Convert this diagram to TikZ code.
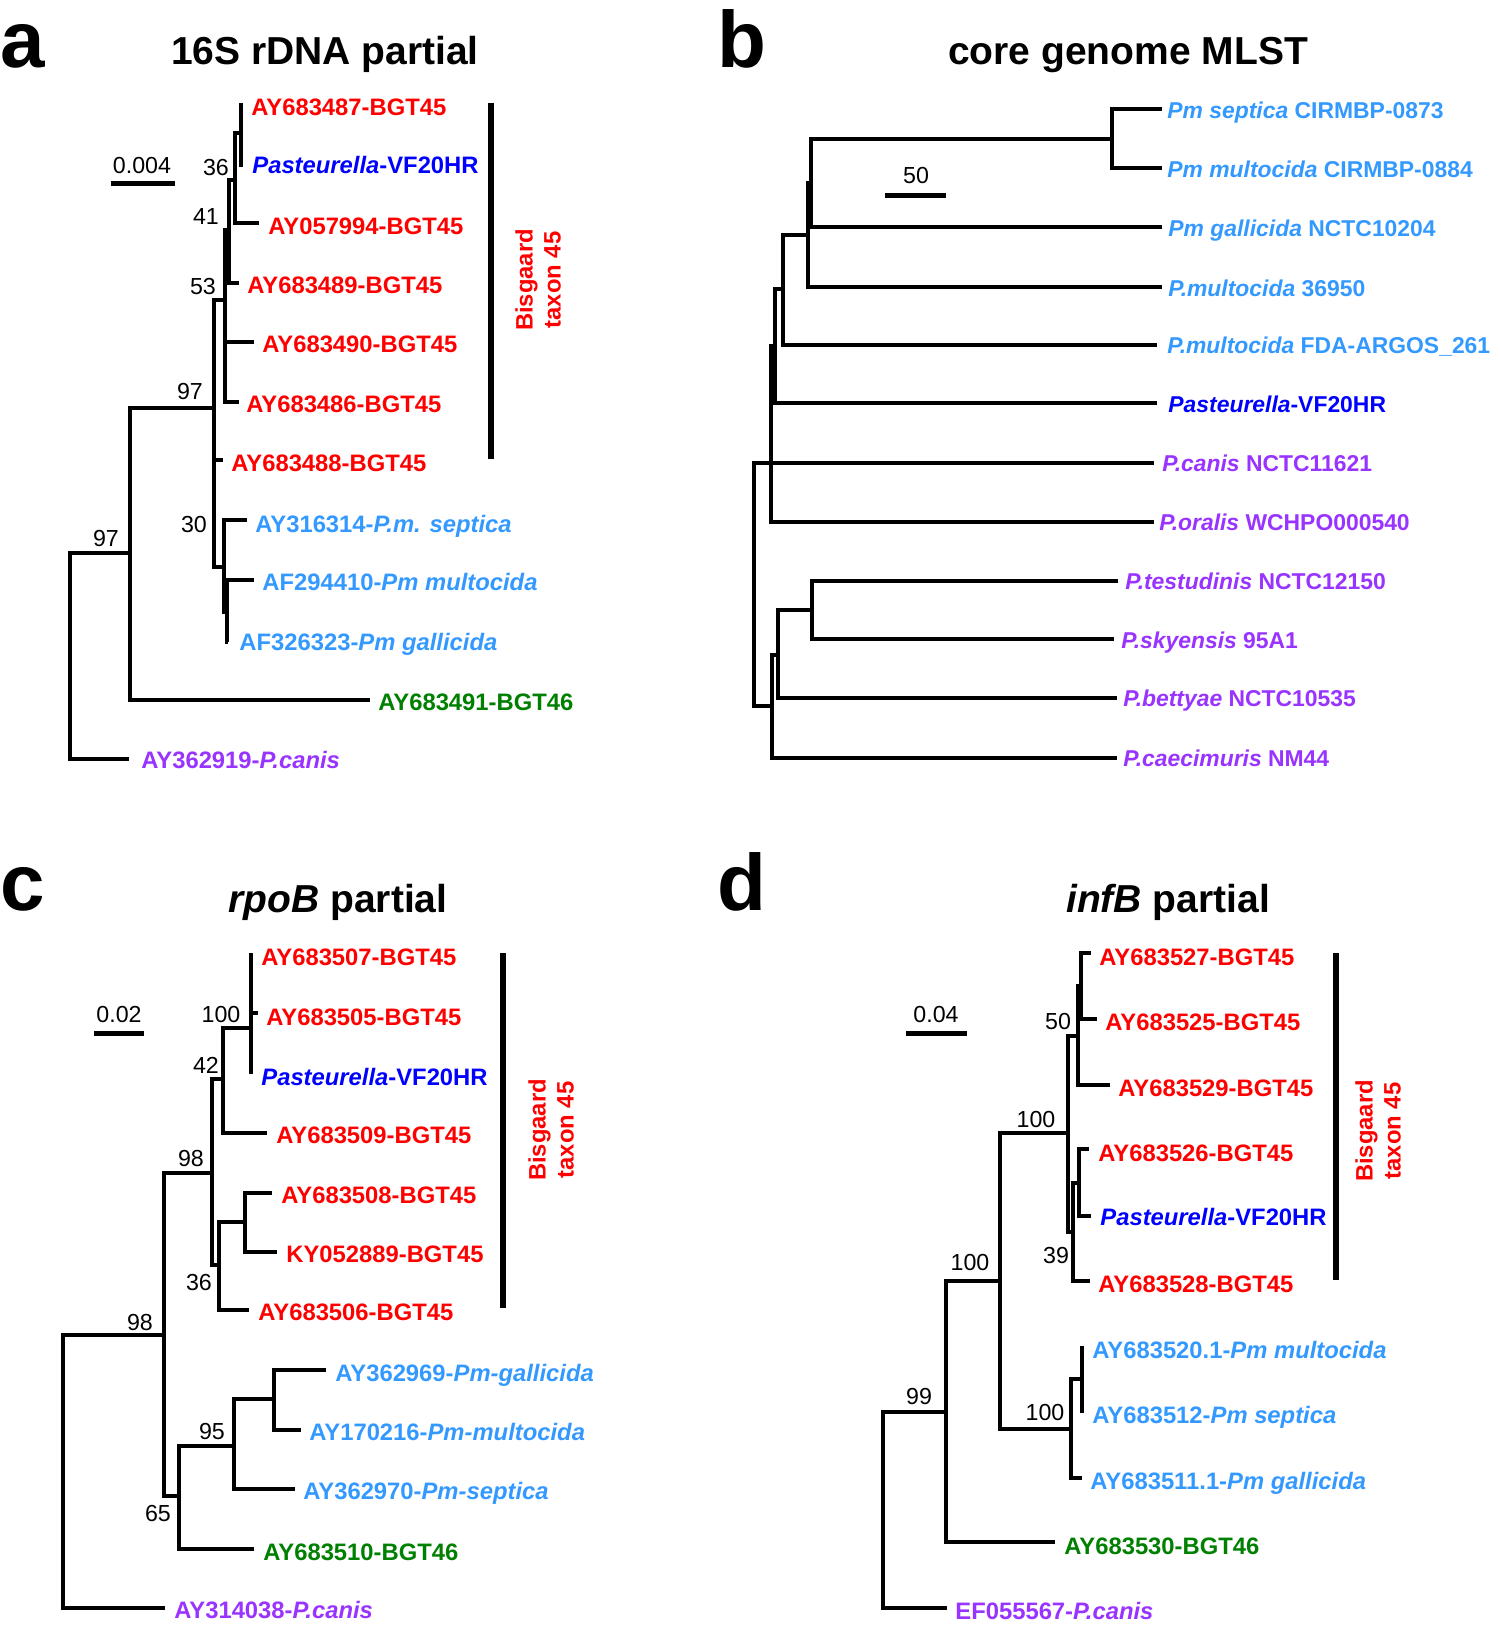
\documentclass[tikz,border=0pt]{standalone}
\usepackage{fontspec}
\setmainfont{Liberation Sans}
\usetikzlibrary{backgrounds}
\pgfdeclarelayer{edgelayer}
\pgfdeclarelayer{nodelayer}
\pgfsetlayers{edgelayer,nodelayer,main}
\definecolor{bgtred}{RGB}{255,0,0}
\definecolor{vfblue}{RGB}{0,0,255}
\definecolor{pmblue}{RGB}{51,153,255}
\definecolor{bgtgreen}{RGB}{0,128,0}
\definecolor{canispurple}{RGB}{153,51,255}
\tikzstyle{none}=[inner sep=0pt]
\tikzstyle{leaf}=[anchor=west,inner sep=0pt,text height=8.5pt,text depth=0pt,font=\bfseries\fontsize{11.9}{14.2}\selectfont]
\tikzstyle{bgt45}=[leaf,text=bgtred]
\tikzstyle{vf}=[leaf,text=vfblue]
\tikzstyle{pm}=[leaf,text=pmblue]
\tikzstyle{bgt46}=[leaf,text=bgtgreen]
\tikzstyle{canis}=[leaf,text=canispurple]
\tikzstyle{leafb}=[leaf,text height=8.2pt,font=\bfseries\fontsize{11.45}{13.8}\selectfont]
\tikzstyle{vfb}=[leafb,text=vfblue]
\tikzstyle{pmb}=[leafb,text=pmblue]
\tikzstyle{canisb}=[leafb,text=canispurple]
\tikzstyle{boot}=[inner sep=0pt,font=\fontsize{11.6}{13.9}\selectfont]
\tikzstyle{heading}=[anchor=base,inner sep=0pt,font=\bfseries\fontsize{19.5}{23.4}\selectfont]
\tikzstyle{panel}=[anchor=base west,inner sep=0pt,font=\bfseries\fontsize{40}{48}\selectfont]
\tikzstyle{taxon}=[inner sep=0pt,rotate=90,align=center,text=bgtred,font=\bfseries\fontsize{11.9}{14}\selectfont]
\tikzstyle{branch}=[line width=1.6pt]
\tikzstyle{cladebar}=[line width=2.8pt]
\tikzstyle{scalebar}=[line width=2.5pt]

\begin{document}
\begin{tikzpicture}[x=0.5pt,y=-0.5pt]
	\useasboundingbox (0,0) rectangle (1500,1628);
	\begin{pgfonlayer}{nodelayer}
		% a: 16S rDNA
		\node [style=panel] (67) at (0, 67) {a};
		\node [style=heading] (66) at (325, 64) {16S rDNA partial};
		\node [style=none] (0) at (70, 656) {};
		\node [style=none] (1) at (130, 553) {};
		\node [style=none] (2) at (214, 408) {};
		\node [style=none] (3) at (225, 300) {};
		\node [style=none] (4) at (229, 230) {};
		\node [style=none] (5) at (235, 180) {};
		\node [style=none] (6) at (241, 133) {};
		\node [style=none] (7) at (224, 567) {};
		\node [style=none] (8) at (227, 612) {};
		\node [style=none] (10) at (241, 103) {};
		\node [style=none] (11) at (243, 165) {};
		\node [style=none] (12) at (259, 223) {};
		\node [style=none] (13) at (239, 283) {};
		\node [style=none] (14) at (254, 342) {};
		\node [style=none] (15) at (239, 402) {};
		\node [style=none] (16) at (223, 460) {};
		\node [style=none] (17) at (247, 520) {};
		\node [style=none] (18) at (254, 580) {};
		\node [style=none] (19) at (228, 642) {};
		\node [style=none] (20) at (370, 700) {};
		\node [style=none] (21) at (129, 759) {};
		\node [style=bgt45] (30) at (251, 107) {AY683487-BGT45};
		\node [style=vf] (31) at (252, 165) {\textit{Pasteurella}-VF20HR};
		\node [style=bgt45] (32) at (268, 226) {AY057994-BGT45};
		\node [style=bgt45] (33) at (247, 285) {AY683489-BGT45};
		\node [style=bgt45] (34) at (262, 344) {AY683490-BGT45};
		\node [style=bgt45] (35) at (246, 404) {AY683486-BGT45};
		\node [style=bgt45] (36) at (231, 463) {AY683488-BGT45};
		\node [style=pm] (37) at (255, 524) {AY316314-\textit{P.m. septica}};
		\node [style=pm] (38) at (262, 582) {AF294410-\textit{Pm multocida}};
		\node [style=pm] (39) at (239, 642) {AF326323-\textit{Pm gallicida}};
		\node [style=bgt46] (40) at (378, 702) {AY683491-BGT46};
		\node [style=canis] (41) at (141, 760) {AY362919-\textit{P.canis}};
		\node [style=boot] (50) at (216, 168) {36};
		\node [style=boot] (51) at (206, 217) {41};
		\node [style=boot] (52) at (203, 287) {53};
		\node [style=boot] (53) at (190, 392) {97};
		\node [style=boot] (54) at (106, 539) {97};
		\node [style=boot] (55) at (194, 525) {30};
		\node [style=none] (60) at (111, 183) {};
		\node [style=none] (61) at (175, 183) {};
		\node [style=boot] (62) at (142, 166) {0.004};
		\node [style=none] (63) at (491, 103) {};
		\node [style=none] (64) at (491, 459) {};
		\node [style=taxon] (65) at (538, 280) {Bisgaard\\taxon 45};

		% b: core genome MLST
		\node [style=panel] (167) at (717, 67) {b};
		\node [style=heading] (166) at (1128, 64) {core genome MLST};
		\node [style=none] (100) at (754, 584) {};
		\node [style=none] (101) at (771, 463) {};
		\node [style=none] (102) at (775, 346) {};
		\node [style=none] (103) at (783, 289) {};
		\node [style=none] (104) at (808, 235) {};
		\node [style=none] (105) at (811, 183) {};
		\node [style=none] (106) at (1112, 139) {};
		\node [style=none] (107) at (772, 706) {};
		\node [style=none] (108) at (778, 655) {};
		\node [style=none] (109) at (812, 610) {};
		\node [style=none] (110) at (1162, 109) {};
		\node [style=none] (111) at (1162, 168) {};
		\node [style=none] (112) at (1162, 227) {};
		\node [style=none] (113) at (1162, 287) {};
		\node [style=none] (114) at (1157, 345) {};
		\node [style=none] (115) at (1157, 403) {};
		\node [style=none] (116) at (1154, 463) {};
		\node [style=none] (117) at (1154, 522) {};
		\node [style=none] (118) at (1118, 581) {};
		\node [style=none] (119) at (1114, 639) {};
		\node [style=none] (120) at (1117, 698) {};
		\node [style=none] (121) at (1117, 758) {};
		\node [style=pmb] (130) at (1167, 110) {\textit{Pm septica} CIRMBP-0873};
		\node [style=pmb] (131) at (1167, 169) {\textit{Pm multocida} CIRMBP-0884};
		\node [style=pmb] (132) at (1168, 228) {\textit{Pm gallicida} NCTC10204};
		\node [style=pmb] (133) at (1168, 288) {\textit{P.multocida} 36950};
		\node [style=pmb] (134) at (1167, 345) {\textit{P.multocida} FDA-ARGOS\_261};
		\node [style=vfb] (135) at (1168, 404) {\textit{Pasteurella}-VF20HR};
		\node [style=canisb] (136) at (1162, 463) {\textit{P.canis} NCTC11621};
		\node [style=canisb] (137) at (1159, 522) {\textit{P.oralis} WCHPO000540};
		\node [style=canisb] (138) at (1125, 581) {\textit{P.testudinis} NCTC12150};
		\node [style=canisb] (139) at (1121, 640) {\textit{P.skyensis} 95A1};
		\node [style=canisb] (140) at (1123, 698) {\textit{P.bettyae} NCTC10535};
		\node [style=canisb] (141) at (1123, 758) {\textit{P.caecimuris} NM44};
		\node [style=none] (160) at (885, 195) {};
		\node [style=none] (161) at (946, 195) {};
		\node [style=boot] (162) at (916, 176) {50};

		% c: rpoB
		\node [style=panel] (267) at (0, 910) {c};
		\node [style=heading] (266) at (338, 912) {\textit{rpoB} partial};
		\node [style=none] (200) at (63, 1471) {};
		\node [style=none] (201) at (164, 1335) {};
		\node [style=none] (202) at (212, 1173) {};
		\node [style=none] (203) at (223, 1079) {};
		\node [style=none] (204) at (251, 1028) {};
		\node [style=none] (205) at (219, 1265) {};
		\node [style=none] (206) at (245, 1222) {};
		\node [style=none] (207) at (179, 1496) {};
		\node [style=none] (208) at (234, 1446) {};
		\node [style=none] (209) at (274, 1399) {};
		\node [style=none] (210) at (251, 953) {};
		\node [style=none] (211) at (258, 1013) {};
		\node [style=none] (212) at (251, 1074) {};
		\node [style=none] (213) at (267, 1133) {};
		\node [style=none] (214) at (272, 1193) {};
		\node [style=none] (215) at (277, 1252) {};
		\node [style=none] (216) at (249, 1310) {};
		\node [style=none] (217) at (326, 1370) {};
		\node [style=none] (218) at (301, 1430) {};
		\node [style=none] (219) at (295, 1489) {};
		\node [style=none] (220) at (254, 1549) {};
		\node [style=none] (221) at (165, 1608) {};
		\node [style=bgt45] (230) at (261, 957) {AY683507-BGT45};
		\node [style=bgt45] (231) at (266, 1017) {AY683505-BGT45};
		\node [style=vf] (232) at (261, 1077) {\textit{Pasteurella}-VF20HR};
		\node [style=bgt45] (233) at (276, 1135) {AY683509-BGT45};
		\node [style=bgt45] (234) at (281, 1195) {AY683508-BGT45};
		\node [style=bgt45] (235) at (286, 1254) {KY052889-BGT45};
		\node [style=bgt45] (236) at (258, 1312) {AY683506-BGT45};
		\node [style=pm] (237) at (335, 1373) {AY362969-\textit{Pm-gallicida}};
		\node [style=pm] (238) at (309, 1432) {AY170216-\textit{Pm-multocida}};
		\node [style=pm] (239) at (303, 1491) {AY362970-\textit{Pm-septica}};
		\node [style=bgt46] (240) at (263, 1552) {AY683510-BGT46};
		\node [style=canis] (241) at (174, 1610) {AY314038-\textit{P.canis}};
		\node [style=boot] (250) at (221, 1014) {100};
		\node [style=boot] (251) at (206, 1065) {42};
		\node [style=boot] (252) at (191, 1158) {98};
		\node [style=boot] (253) at (199, 1282) {36};
		\node [style=boot] (254) at (140, 1322) {98};
		\node [style=boot] (255) at (212, 1431) {95};
		\node [style=boot] (256) at (158, 1513) {65};
		\node [style=none] (260) at (94, 1033) {};
		\node [style=none] (261) at (144, 1033) {};
		\node [style=boot] (262) at (119, 1014) {0.02};
		\node [style=none] (263) at (503, 953) {};
		\node [style=none] (264) at (503, 1308) {};
		\node [style=taxon] (265) at (551, 1130) {Bisgaard\\taxon 45};

		% d: infB
		\node [style=panel] (367) at (717, 910) {d};
		\node [style=heading] (366) at (1168, 912) {\textit{infB} partial};
		\node [style=none] (300) at (883, 1510) {};
		\node [style=none] (301) at (946, 1412) {};
		\node [style=none] (302) at (1000, 1281) {};
		\node [style=none] (303) at (1068, 1133) {};
		\node [style=none] (304) at (1078, 1036) {};
		\node [style=none] (305) at (1081, 986) {};
		\node [style=none] (306) at (1073, 1232) {};
		\node [style=none] (307) at (1079, 1183) {};
		\node [style=none] (308) at (1071, 1429) {};
		\node [style=none] (309) at (1082, 1379) {};
		\node [style=none] (310) at (1091, 953) {};
		\node [style=none] (311) at (1097, 1019) {};
		\node [style=none] (312) at (1110, 1085) {};
		\node [style=none] (313) at (1089, 1149) {};
		\node [style=none] (314) at (1091, 1216) {};
		\node [style=none] (315) at (1090, 1281) {};
		\node [style=none] (316) at (1082, 1346) {};
		\node [style=none] (317) at (1082, 1413) {};
		\node [style=none] (318) at (1082, 1478) {};
		\node [style=none] (319) at (1055, 1542) {};
		\node [style=none] (320) at (947, 1608) {};
		\node [style=bgt45] (330) at (1099, 957) {AY683527-BGT45};
		\node [style=bgt45] (331) at (1105, 1022) {AY683525-BGT45};
		\node [style=bgt45] (332) at (1118, 1088) {AY683529-BGT45};
		\node [style=bgt45] (333) at (1098, 1153) {AY683526-BGT45};
		\node [style=vf] (334) at (1100, 1217) {\textit{Pasteurella}-VF20HR};
		\node [style=bgt45] (335) at (1098, 1284) {AY683528-BGT45};
		\node [style=pm] (336) at (1092, 1350) {AY683520.1-\textit{Pm multocida}};
		\node [style=pm] (337) at (1092, 1415) {AY683512-\textit{Pm septica}};
		\node [style=pm] (338) at (1090, 1481) {AY683511.1-\textit{Pm gallicida}};
		\node [style=bgt46] (339) at (1064, 1546) {AY683530-BGT46};
		\node [style=canis] (340) at (955, 1611) {EF055567-\textit{P.canis}};
		\node [style=boot] (350) at (1058, 1021) {50};
		\node [style=boot] (351) at (1036, 1119) {100};
		\node [style=boot] (352) at (1056, 1255) {39};
		\node [style=boot] (353) at (970, 1262) {100};
		\node [style=boot] (354) at (1045, 1412) {100};
		\node [style=boot] (355) at (919, 1396) {99};
		\node [style=none] (360) at (906, 1033) {};
		\node [style=none] (361) at (967, 1033) {};
		\node [style=boot] (362) at (936, 1014) {0.04};
		\node [style=none] (363) at (1336, 953) {};
		\node [style=none] (364) at (1336, 1280) {};
		\node [style=taxon] (365) at (1378, 1131) {Bisgaard\\taxon 45};
	\end{pgfonlayer}
	\begin{pgfonlayer}{edgelayer}
		% a
		\draw [style=branch] (0.center) |- (1.center);
		\draw [style=branch] (0.center) |- (21.center);
		\draw [style=branch] (1.center) |- (2.center);
		\draw [style=branch] (1.center) |- (20.center);
		\draw [style=branch] (2.center) |- (3.center);
		\draw [style=branch] (2.center) |- (16.center);
		\draw [style=branch] (2.center) |- (7.center);
		\draw [style=branch] (3.center) |- (4.center);
		\draw [style=branch] (3.center) |- (14.center);
		\draw [style=branch] (3.center) |- (15.center);
		\draw [style=branch] (4.center) |- (5.center);
		\draw [style=branch] (4.center) |- (13.center);
		\draw [style=branch] (5.center) |- (6.center);
		\draw [style=branch] (5.center) |- (12.center);
		\draw [style=branch] (6.center) |- (10.center);
		\draw [style=branch] (6.center) |- (11.center);
		\draw [style=branch] (7.center) |- (17.center);
		\draw [style=branch] (7.center) |- (8.center);
		\draw [style=branch] (8.center) |- (18.center);
		\draw [style=branch] (8.center) |- (19.center);
		\draw [style=scalebar] (60.center) to (61.center);
		\draw [style=cladebar] (63.center) to (64.center);
		% b
		\draw [style=branch] (100.center) |- (101.center);
		\draw [style=branch] (100.center) |- (107.center);
		\draw [style=branch] (101.center) |- (102.center);
		\draw [style=branch] (101.center) |- (116.center);
		\draw [style=branch] (101.center) |- (117.center);
		\draw [style=branch] (102.center) |- (103.center);
		\draw [style=branch] (102.center) |- (115.center);
		\draw [style=branch] (103.center) |- (104.center);
		\draw [style=branch] (103.center) |- (114.center);
		\draw [style=branch] (104.center) |- (105.center);
		\draw [style=branch] (104.center) |- (113.center);
		\draw [style=branch] (105.center) |- (106.center);
		\draw [style=branch] (105.center) |- (112.center);
		\draw [style=branch] (106.center) |- (110.center);
		\draw [style=branch] (106.center) |- (111.center);
		\draw [style=branch] (107.center) |- (108.center);
		\draw [style=branch] (107.center) |- (121.center);
		\draw [style=branch] (108.center) |- (109.center);
		\draw [style=branch] (108.center) |- (120.center);
		\draw [style=branch] (109.center) |- (118.center);
		\draw [style=branch] (109.center) |- (119.center);
		\draw [style=scalebar] (160.center) to (161.center);
		% c
		\draw [style=branch] (200.center) |- (201.center);
		\draw [style=branch] (200.center) |- (221.center);
		\draw [style=branch] (201.center) |- (202.center);
		\draw [style=branch] (201.center) |- (207.center);
		\draw [style=branch] (202.center) |- (203.center);
		\draw [style=branch] (202.center) |- (205.center);
		\draw [style=branch] (203.center) |- (204.center);
		\draw [style=branch] (203.center) |- (213.center);
		\draw [style=branch] (204.center) |- (210.center);
		\draw [style=branch] (204.center) |- (211.center);
		\draw [style=branch] (204.center) |- (212.center);
		\draw [style=branch] (205.center) |- (206.center);
		\draw [style=branch] (205.center) |- (216.center);
		\draw [style=branch] (206.center) |- (214.center);
		\draw [style=branch] (206.center) |- (215.center);
		\draw [style=branch] (207.center) |- (208.center);
		\draw [style=branch] (207.center) |- (220.center);
		\draw [style=branch] (208.center) |- (209.center);
		\draw [style=branch] (208.center) |- (219.center);
		\draw [style=branch] (209.center) |- (217.center);
		\draw [style=branch] (209.center) |- (218.center);
		\draw [style=scalebar] (260.center) to (261.center);
		\draw [style=cladebar] (263.center) to (264.center);
		% d
		\draw [style=branch] (300.center) |- (301.center);
		\draw [style=branch] (300.center) |- (320.center);
		\draw [style=branch] (301.center) |- (302.center);
		\draw [style=branch] (301.center) |- (319.center);
		\draw [style=branch] (302.center) |- (303.center);
		\draw [style=branch] (302.center) |- (308.center);
		\draw [style=branch] (303.center) |- (304.center);
		\draw [style=branch] (303.center) |- (306.center);
		\draw [style=branch] (304.center) |- (305.center);
		\draw [style=branch] (304.center) |- (312.center);
		\draw [style=branch] (305.center) |- (310.center);
		\draw [style=branch] (305.center) |- (311.center);
		\draw [style=branch] (306.center) |- (307.center);
		\draw [style=branch] (306.center) |- (315.center);
		\draw [style=branch] (307.center) |- (313.center);
		\draw [style=branch] (307.center) |- (314.center);
		\draw [style=branch] (308.center) |- (309.center);
		\draw [style=branch] (308.center) |- (318.center);
		\draw [style=branch] (309.center) |- (316.center);
		\draw [style=branch] (309.center) |- (317.center);
		\draw [style=scalebar] (360.center) to (361.center);
		\draw [style=cladebar] (363.center) to (364.center);
	\end{pgfonlayer}
\end{tikzpicture}
\end{document}
